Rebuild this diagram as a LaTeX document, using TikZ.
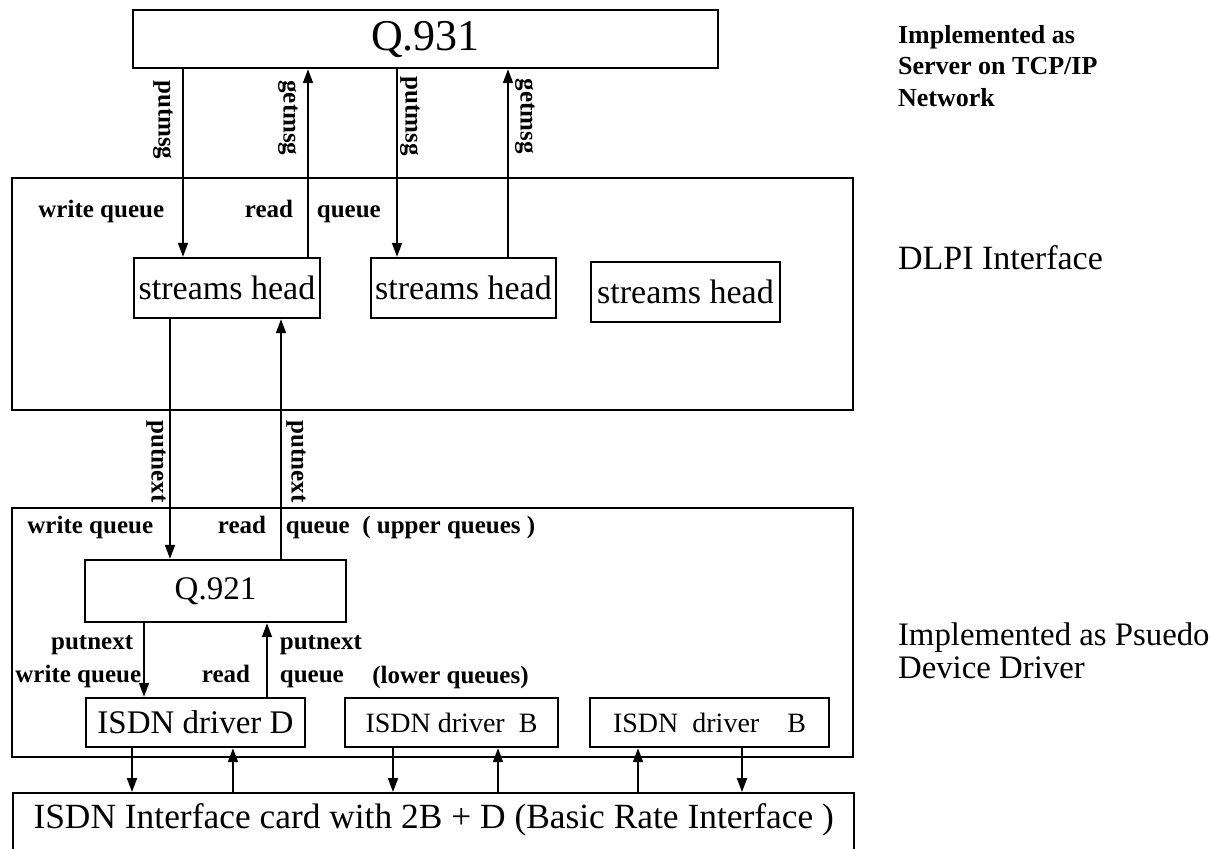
\documentclass[tikz,border=0pt]{standalone}
\usepackage{fontspec}
\setmainfont{Liberation Serif}
\usetikzlibrary{arrows.meta,positioning}

\begin{document}
\begin{tikzpicture}[x=0.5pt, y=-0.5pt,
    frame/.style={draw, line width=1.2pt, inner sep=0pt},
    arr/.style={line width=0.9pt, -{Triangle[length=7pt,width=5pt]}},
    big/.style={font=\fontsize{16.5}{19}\selectfont},
    small/.style={font=\fontsize{12.5}{15}\selectfont\bfseries, inner sep=0pt,
                  text height=8.8pt, text depth=2.8pt},
    vlbl/.style={small, rotate=-90, inner sep=3pt}]
    \useasboundingbox (0,0) rectangle (1211,848);
    \clip (0,0) rectangle (1211,848);

    \coordinate (pm1) at (183,0);
    \coordinate (gm1) at (308,0);
    \coordinate (pm2) at (397,0);
    \coordinate (gm2) at (508,0);
    \coordinate (pn1) at (170,0);
    \coordinate (pn2) at (281,0);
    \coordinate (pn3) at (144,0);
    \coordinate (pn4) at (267,0);
    \coordinate (c1) at (132,0);
    \coordinate (c2) at (233,0);
    \coordinate (c3) at (393,0);
    \coordinate (c4) at (498,0);
    \coordinate (c5) at (638,0);
    \coordinate (c6) at (742,0);

    \node[frame, minimum width=292.5pt, minimum height=29pt,
          font=\fontsize{22}{24}\selectfont] (q931) at (425.5,39) {Q.931};
    \node[frame, minimum width=420.5pt, minimum height=116pt] (dlpi) at (432.5,294) {};
    \node[frame, big, font=\fontsize{17}{20}\selectfont, minimum width=93pt,
          minimum height=30pt] (sh1) at (227,288) {streams head};
    \node[frame, big, font=\fontsize{17}{20}\selectfont, minimum width=92.5pt,
          minimum height=30pt] (sh2) at (463.5,288) {streams head};
    \node[frame, big, font=\fontsize{17}{20}\selectfont, minimum width=94.5pt,
          minimum height=30pt] (sh3) at (685.5,292) {streams head};

    \node[frame, minimum width=420.5pt, minimum height=124.5pt] (pdd) at (432.5,632.5) {};
    \node[frame, big, minimum width=130.5pt, minimum height=31pt] (q921) at (215.5,591) {Q.921};
    \node[frame, big, minimum width=109.5pt, minimum height=24.5pt] (drvd) at (195.5,722.5) {ISDN driver D};
    \node[frame, font=\fontsize{14}{17}\selectfont, minimum width=106.5pt,
          minimum height=24.5pt] (drvb1) at (451.5,722.5) {ISDN driver\ \ B};
    \node[frame, font=\fontsize{14}{17}\selectfont, minimum width=119.5pt,
          minimum height=24.5pt] (drvb2) at (709.5,722.5) {ISDN\ \ driver\ \ \ \ B};

    \node[frame, minimum width=420.5pt, minimum height=60pt, anchor=north west] (card) at (12,792) {};
    \node[font=\fontsize{17.7}{21}\selectfont, below=2pt of card.north] (cardtxt)
         {ISDN Interface card with 2B + D (Basic Rate Interface )};

    \draw[arr] (q931.south -| pm1) --
        node[vlbl, pos=.27, anchor=north] (lpm1) {putmsg}
        node[small, pos=.76, left=9pt] (wq1) {write queue} (sh1.north -| pm1);
    \draw[arr] (sh1.north -| gm1) --
        node[vlbl, pos=.74, anchor=north] (lgm1) {getmsg}
        node[small, pos=.24, left=7pt] (rd1) {read}
        node[small, pos=.24, right=4pt] (qu1) {queue} (q931.south -| gm1);
    \draw[arr] (q931.south -| pm2) --
        node[vlbl, pos=.25, anchor=south, inner sep=1pt] (lpm2) {putmsg} (sh2.north -| pm2);
    \draw[arr] (sh2.north -| gm2) --
        node[vlbl, pos=.75, anchor=south] (lgm2) {getmsg} (q931.south -| gm2);

    \draw[arr] (sh1.south -| pn1) --
        node[vlbl, pos=.595, anchor=north, inner sep=0pt] (lpn1) {putnext}
        node[small, pos=.868, left=8pt] (wq2) {write queue} (q921.north -| pn1);
    \draw[arr] (q921.north -| pn2) --
        node[vlbl, pos=.405, anchor=south, inner sep=2pt] (lpn2) {putnext}
        node[small, pos=.132, left=7pt] (rd2) {read}
        node[small, pos=.132, right=2pt] (qu2) {queue\ \ ( upper queues )} (sh1.south -| pn2);

    \draw[arr] (q921.south -| pn3) --
        node[small, pos=.28, left=5pt] (lpn3) {putnext}
        node[small, pos=.72, left=1pt] (wq3) {write queue} (drvd.north -| pn3);
    \draw[arr] (drvd.north -| pn4) --
        node[small, pos=.72, right=6pt] (lpn4) {putnext}
        node[small, pos=.28, left=8pt] (rd3) {read}
        node[small, pos=.28, right=6pt] (qu3) {queue} (q921.south -| pn4);
    \node[small, anchor=west] (lowq) at (372,677) {(lower queues)};

    \draw[arr] (drvd.south -| c1) -- (card.north -| c1);
    \draw[arr] (card.north -| c2) -- (drvd.south -| c2);
    \draw[arr] (drvb1.south -| c3) -- (card.north -| c3);
    \draw[arr] (card.north -| c4) -- (drvb1.south -| c4);
    \draw[arr] (card.north -| c5) -- (drvb2.south -| c5);
    \draw[arr] (drvb2.south -| c6) -- (card.north -| c6);

    \node[font=\fontsize{13}{15.75}\selectfont\bfseries, align=left, anchor=west]
         (srvlbl) at (891,66) {Implemented as\\Server on TCP/IP\\Network};
    \node[font=\fontsize{17}{20}\selectfont, anchor=west] (dlpilbl) at (891,258) {DLPI Interface};
    \node[font=\fontsize{16.4}{16.5}\selectfont, align=left, anchor=west]
         (pddlbl) at (891,651) {Implemented as Psuedo\\Device Driver};
\end{tikzpicture}
\end{document}
